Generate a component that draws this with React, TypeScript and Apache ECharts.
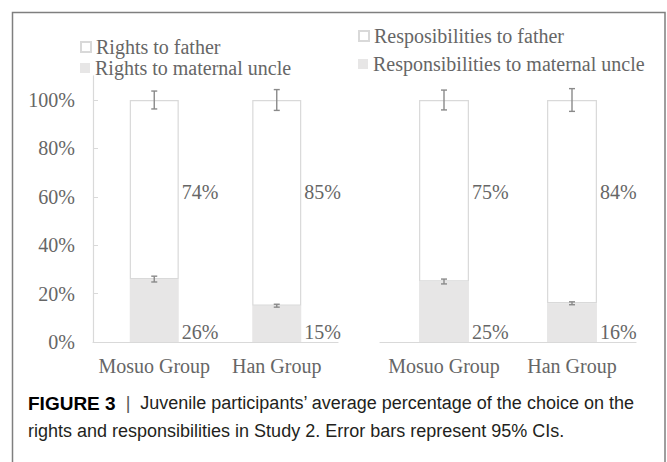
import React, { useEffect, useRef } from "react";
import * as echarts from "echarts";

const groups = ["Mosuo Group", "Han Group"];
const rightsUncle = [26, 15];
const rightsFather = [74, 85];
const respUncle = [25, 16];
const respFather = [75, 84];
// 95% CI half-widths (percentage points)
const rightsUncleErr = [1.2, 0.6];
const rightsFatherErr = [3.7, 4.3];
const respUncleErr = [1.0, 0.6];
const respFatherErr = [4.1, 4.7];
const yTicks = [0, 20, 40, 60, 80, 100];

const SERIF = "Liberation Serif";
const TXT = "#666666";

export default function App() {
  const ref = useRef<HTMLDivElement>(null);
  useEffect(() => {
    document.body.style.margin = "0";
    if (!ref.current) return;
    const chart = echarts.init(ref.current, null, { renderer: "svg" });

    const errRender = (params: any, api: any) => {
      const x = api.value(0);
      const c = api.value(1);
      const e = api.value(2);
      const top = api.coord([x, c + e]);
      const bot = api.coord([x, c - e]);
      const cw = 3;
      const style = { stroke: "#8a8a8a", lineWidth: 1.4 };
      return {
        type: "group",
        children: [
          { type: "line", shape: { x1: top[0], y1: top[1], x2: bot[0], y2: bot[1] }, style },
          { type: "line", shape: { x1: top[0] - cw, y1: top[1], x2: top[0] + cw, y2: top[1] }, style },
          { type: "line", shape: { x1: bot[0] - cw, y1: bot[1], x2: bot[0] + cw, y2: bot[1] }, style },
        ],
      };
    };

    const errData = (uncle: number[], father: number[], ue: number[], fe: number[]) => {
      const d: number[][] = [];
      uncle.forEach((u, i) => {
        d.push([i, u, ue[i]]);
        d.push([i, u + father[i], fe[i]]);
      });
      return d;
    };

    const fatherLabel = {
      show: true,
      position: ["100%", 92],
      align: "left",
      verticalAlign: "middle",
      offset: [3, 0],
      formatter: "{c}%",
      color: TXT,
      fontFamily: SERIF,
      fontSize: 20,
    };
    const uncleLabel = {
      show: true,
      position: ["100%", "100%"],
      align: "left",
      verticalAlign: "bottom",
      offset: [3, 0],
      formatter: "{c}%",
      color: TXT,
      fontFamily: SERIF,
      fontSize: 20,
    };

    const legendBase = {
      orient: "vertical",
      icon: "rect",
      itemWidth: 10,
      itemHeight: 10,
      padding: 0,
      textStyle: { color: TXT, fontFamily: SERIF, fontSize: 20 },
      selectedMode: false,
    };

    const xAxisBase = {
      type: "category",
      data: groups,
      axisLine: { lineStyle: { color: "#d9d9d9", width: 1.2 } },
      axisTick: { show: false },
      axisLabel: { color: TXT, fontFamily: SERIF, fontSize: 20, margin: 14, interval: 0 },
    };

    const option: any = {
      animation: false,
      grid: [
        { left: 93, right: 329, top: 75.8, bottom: 120 },
        { left: 380, right: 31, top: 75.8, bottom: 120 },
      ],
      xAxis: [
        { ...xAxisBase, gridIndex: 0 },
        { ...xAxisBase, gridIndex: 1 },
      ],
      yAxis: [
        {
          type: "value",
          gridIndex: 0,
          min: 0,
          max: 110,
          interval: 20,
          axisLine: { show: true, lineStyle: { color: "#d9d9d9", width: 1.2 } },
          axisTick: { show: true, inside: true, length: 5, lineStyle: { color: "#d9d9d9" }, customValues: yTicks },
          splitLine: { show: false },
          axisLabel: {
            color: TXT,
            fontFamily: SERIF,
            fontSize: 20,
            margin: 18,
            customValues: yTicks,
            formatter: (v: number) => (v > 100 ? "" : v + "%"),
          },
        },
        {
          type: "value",
          gridIndex: 1,
          min: 0,
          max: 110,
          interval: 20,
          axisLine: { show: false },
          axisTick: { show: false },
          splitLine: { show: false },
          axisLabel: { show: false },
        },
      ],
      legend: [
        { ...legendBase, left: 80, top: 37, data: ["Rights to father"] },
        { ...legendBase, left: 80, top: 58, data: ["Rights to maternal uncle"] },
        { ...legendBase, left: 358, top: 26, data: ["Resposibilities to father"] },
        { ...legendBase, left: 358, top: 54, data: ["Responsibilities to maternal uncle"] },
      ],
      series: [
        {
          name: "Rights to maternal uncle",
          type: "bar",
          stack: "L",
          xAxisIndex: 0,
          yAxisIndex: 0,
          barWidth: "40%",
          data: rightsUncle,
          itemStyle: { color: "#e7e6e6" },
          label: uncleLabel,
        },
        {
          name: "Rights to father",
          type: "bar",
          stack: "L",
          xAxisIndex: 0,
          yAxisIndex: 0,
          barWidth: "40%",
          data: rightsFather,
          itemStyle: { color: "#ffffff", borderColor: "#d9d9d9", borderWidth: 1.2 },
          label: fatherLabel,
        },
        {
          name: "Responsibilities to maternal uncle",
          type: "bar",
          stack: "R",
          xAxisIndex: 1,
          yAxisIndex: 1,
          barWidth: "39%",
          data: respUncle,
          itemStyle: { color: "#e7e6e6" },
          label: uncleLabel,
        },
        {
          name: "Resposibilities to father",
          type: "bar",
          stack: "R",
          xAxisIndex: 1,
          yAxisIndex: 1,
          barWidth: "39%",
          data: respFather,
          itemStyle: { color: "#ffffff", borderColor: "#d9d9d9", borderWidth: 1.2 },
          label: fatherLabel,
        },
        {
          type: "custom",
          xAxisIndex: 0,
          yAxisIndex: 0,
          renderItem: errRender,
          data: errData(rightsUncle, rightsFather, rightsUncleErr, rightsFatherErr),
          z: 10,
          silent: true,
        },
        {
          type: "custom",
          xAxisIndex: 1,
          yAxisIndex: 1,
          renderItem: errRender,
          data: errData(respUncle, respFather, respUncleErr, respFatherErr),
          z: 10,
          silent: true,
        },
      ],
      graphic: [
        {
          type: "rect",
          shape: { x: 12.5, y: 12.5, width: 652.5, height: 470 },
          style: { fill: "none", stroke: "#7f7f7f", lineWidth: 1.5 },
          silent: true,
        },
        {
          type: "text",
          left: 28,
          top: 389,
          style: {
            text:
              "{b|FIGURE 3}  {s||}  Juvenile participants\u2019 average percentage of the choice on the\nrights and responsibilities in Study 2. Error bars represent 95% CIs.",
            fontFamily: "Liberation Sans",
            fontSize: 18,
            lineHeight: 28,
            fill: "#231f20",
            rich: {
              b: { fontWeight: "bold", fontFamily: "Liberation Sans", fontSize: 19, fill: "#000000", lineHeight: 28 },
              s: { fontFamily: "Liberation Sans", fontSize: 18, fill: "#555555", lineHeight: 28 },
            },
          },
        },
      ],
    };
    chart.setOption(option);
    return () => chart.dispose();
  }, []);
  return <div ref={ref} style={{ width: 667, height: 462 }} />;
}
